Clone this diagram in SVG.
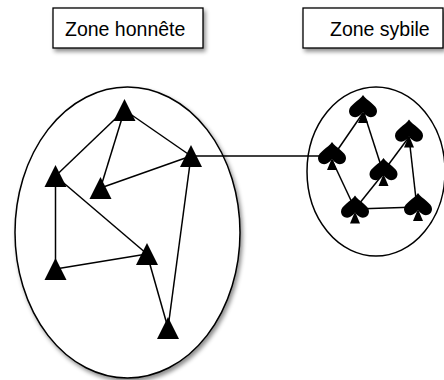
<svg xmlns="http://www.w3.org/2000/svg" xmlns:xlink="http://www.w3.org/1999/xlink" width="444" height="380" viewBox="0 0 444 380">
<style>
.box{fill:#fff;stroke:#000;stroke-width:1.3}
.zone{fill:#fff;stroke:#000;stroke-width:1.5}
.lbl{font-family:"Liberation Sans",Arial,sans-serif;font-size:19.5px;fill:#000}
.edge{stroke:#000;stroke-width:1.5;fill:none}
</style>
<defs>
<filter id="sh" x="-20%" y="-20%" width="150%" height="150%">
<feDropShadow dx="2" dy="3" stdDeviation="2" flood-color="#000" flood-opacity="0.45"/>
</filter>
<path id="tri" d="M0,-11 L11,11 L-11,11 Z" fill="#000"/>
<g id="spade">
<path d="M0,-14 C4,-8 14,-4 14,2 C14,7 9,9.5 5,7.5 C3,6.5 1,4.5 0,3 C-1,4.5 -3,6.5 -5,7.5 C-9,9.5 -14,7 -14,2 C-14,-4 -4,-8 0,-14 Z" fill="#000"/>
<path d="M0,2 L5,14 L-5,14 Z" fill="#000"/>
</g>
</defs>

<g id="label-honnete">
<rect class="box" x="53" y="8" width="150" height="40" filter="url(#sh)"/>
<text class="lbl" x="65" y="35.5">Zone honnête</text>
</g>
<g id="label-sybile">
<rect class="box" x="303" y="8" width="140" height="40" filter="url(#sh)"/>
<text class="lbl" x="330" y="35.5">Zone sybile</text>
</g>

<g id="zone-honnete">
<ellipse class="zone" cx="127.5" cy="232.5" rx="112.5" ry="145.5" filter="url(#sh)"/>
</g>
<g id="zone-sybile">
<ellipse class="zone" cx="376" cy="171.5" rx="69" ry="84.5"/>
</g>

<g id="connectors">
<line class="edge" x1="124.5" y1="110" x2="55.5" y2="176"/>
<line class="edge" x1="124.5" y1="110" x2="100.5" y2="188"/>
<line class="edge" x1="124.5" y1="110" x2="191" y2="156"/>
<line class="edge" x1="191" y1="156" x2="100.5" y2="188"/>
<line class="edge" x1="191" y1="156" x2="168" y2="328"/>
<line class="edge" x1="55.5" y1="176" x2="55.5" y2="269"/>
<line class="edge" x1="55.5" y1="176" x2="147" y2="254"/>
<line class="edge" x1="55.5" y1="269" x2="147" y2="254"/>
<line class="edge" x1="147" y1="254" x2="168" y2="328"/>
<line class="edge" x1="191" y1="156" x2="332" y2="156"/>
<line class="edge" x1="363" y1="113" x2="332" y2="158"/>
<line class="edge" x1="364" y1="113" x2="383" y2="172"/>
<line class="edge" x1="332" y1="160" x2="355" y2="209"/>
<line class="edge" x1="355" y1="209" x2="383" y2="174"/>
<line class="edge" x1="383" y1="172" x2="409" y2="137"/>
<line class="edge" x1="409" y1="137" x2="417" y2="208"/>
<line class="edge" x1="355" y1="209" x2="418" y2="207"/>
</g>

<g id="honest-nodes">
<g id="h1"><use xlink:href="#tri" href="#tri" x="124.5" y="110"/></g>
<g id="h2"><use xlink:href="#tri" href="#tri" x="191" y="156"/></g>
<g id="h3"><use xlink:href="#tri" href="#tri" x="55.5" y="176"/></g>
<g id="h4"><use xlink:href="#tri" href="#tri" x="100.5" y="188"/></g>
<g id="h5"><use xlink:href="#tri" href="#tri" x="147" y="254"/></g>
<g id="h6"><use xlink:href="#tri" href="#tri" x="55.5" y="269"/></g>
<g id="h7"><use xlink:href="#tri" href="#tri" x="168" y="328"/></g>
</g>

<g id="sybil-nodes">
<g id="s1"><use xlink:href="#spade" href="#spade" x="363" y="109"/></g>
<g id="s2"><use xlink:href="#spade" href="#spade" x="409" y="133.5"/></g>
<g id="s3"><use xlink:href="#spade" href="#spade" x="332" y="156"/></g>
<g id="s4"><use xlink:href="#spade" href="#spade" x="383.5" y="172"/></g>
<g id="s5"><use xlink:href="#spade" href="#spade" x="355" y="209.5"/></g>
<g id="s6"><use xlink:href="#spade" href="#spade" x="418" y="207"/></g>
</g>
</svg>
